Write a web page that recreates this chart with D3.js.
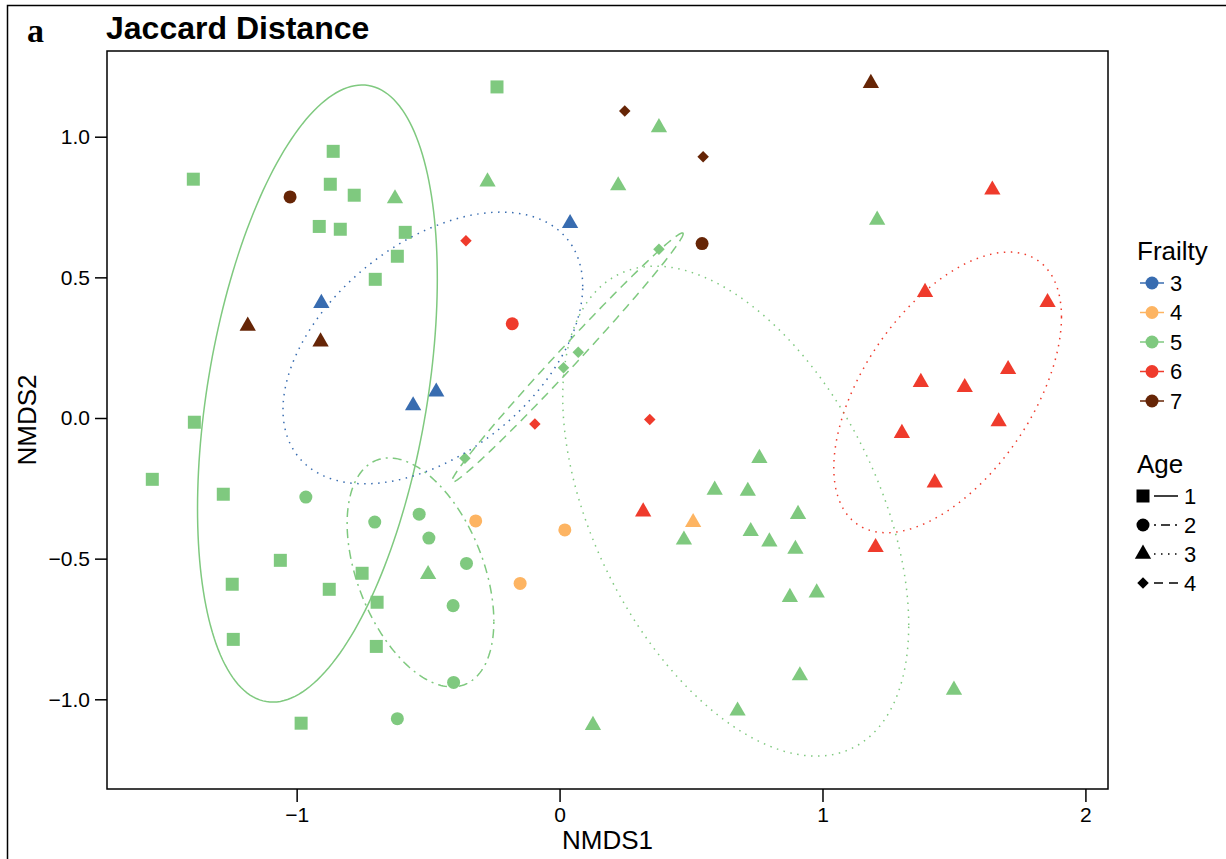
<!DOCTYPE html>
<html>
<head>
<meta charset="utf-8">
<script src="https://cdn.jsdelivr.net/npm/d3@7"></script>
<style>
  body { margin: 0; background: #fff; }
  text { font-family: "Liberation Sans", Arial, sans-serif; fill: #000; }
</style>
</head>
<body>
<div id="chart"></div>
<script>
// points: [NMDS1, NMDS2, frailty, age]
var frailtyLevels = [3, 4, 5, 6, 7];
var ageLevels = [1, 2, 3, 4];
var frailtyColors = ["#386cb0", "#fdb462", "#7fc97f", "#ef3b2c", "#662506"];

var greenSquares = [
  [-0.238, 1.177], [-0.861, 0.948], [-1.393, 0.849], [-0.872, 0.831], [-0.781, 0.792],
  [-0.914, 0.681], [-0.834, 0.671], [-0.587, 0.660], [-0.617, 0.575], [-0.701, 0.493],
  [-1.389, -0.015], [-1.549, -0.218], [-1.279, -0.271], [-1.062, -0.506], [-0.751, -0.552],
  [-1.245, -0.591], [-0.876, -0.609], [-0.694, -0.655], [-1.241, -0.787], [-0.697, -0.812],
  [-0.983, -1.085]
];
var greenCircles = [
  [-0.965, -0.281], [-0.703, -0.370], [-0.534, -0.342], [-0.497, -0.427],
  [-0.354, -0.517], [-0.405, -0.667], [-0.403, -0.940], [-0.617, -1.069]
];
var greenTriangles = [
  [-0.626, 0.780], [-0.274, 0.840], [0.378, 1.033], [0.223, 0.826], [1.208, 0.704],
  [-0.500, -0.556], [0.760, -0.143], [0.590, -0.256], [0.716, -0.260], [0.907, -0.342],
  [0.473, -0.433], [0.727, -0.403], [0.798, -0.440], [0.897, -0.466], [0.876, -0.637],
  [0.978, -0.621], [0.914, -0.916], [0.677, -1.041], [0.127, -1.092], [1.500, -0.967]
];
var greenDiamonds = [[-0.360, -0.143], [0.015, 0.179], [0.071, 0.234], [0.378, 0.600]];
var blueTriangles = [[-0.906, 0.408], [-0.557, 0.044], [-0.469, 0.093], [0.040, 0.692]];
var orangeCircles = [[-0.319, -0.366], [0.020, -0.398], [-0.150, -0.588]];
var orangeTriangles = [[0.508, -0.371]];
var redCircles = [[-0.180, 0.335]];
var redDiamonds = [[-0.356, 0.630], [-0.094, -0.021], [0.343, -0.005]];
var redTriangles = [
  [0.318, -0.333], [1.202, -0.460], [1.646, 0.811], [1.390, 0.447], [1.856, 0.411],
  [1.706, 0.173], [1.374, 0.127], [1.541, 0.109], [1.670, -0.013], [1.302, -0.054],
  [1.427, -0.230]
];
var brownCircles = [[-1.025, 0.786], [0.542, 0.620]];
var brownTriangles = [[-1.186, 0.327], [-0.909, 0.271], [1.184, 1.190]];
var brownDiamonds = [[0.248, 1.091], [0.546, 0.929]];

// ellipses: [cx, cy, halfX, halfY, corr, frailty, age]
var ellipses = [
  [-0.921, 0.087, 0.456, 1.097, 0.373, 5, 1],
  [-0.529, -0.549, 0.279, 0.407, -0.428, 5, 2],
  [0.670, -0.331, 0.658, 0.871, -0.465, 5, 3],
  [0.030, 0.215, 0.440, 0.443, 0.993, 5, 4],
  [-0.482, 0.249, 0.570, 0.483, 0.455, 3, 3],
  [1.476, 0.091, 0.433, 0.499, 0.537, 6, 3]
];

var xTicks = [-1, 0, 1, 2];
var yTicks = [1.0, 0.5, 0.0, -0.5, -1.0];

function tag(arr, f, a) { return arr.map(function(d) { return [d[0], d[1], f, a]; }); }
var points = [].concat(
  tag(greenSquares, 5, 1), tag(greenCircles, 5, 2), tag(greenTriangles, 5, 3), tag(greenDiamonds, 5, 4),
  tag(blueTriangles, 3, 3), tag(orangeCircles, 4, 2), tag(orangeTriangles, 4, 3),
  tag(redCircles, 6, 2), tag(redDiamonds, 6, 4), tag(redTriangles, 6, 3),
  tag(brownCircles, 7, 2), tag(brownTriangles, 7, 3), tag(brownDiamonds, 7, 4)
);

var W = 1226, H = 859;
var margin = {top: 51, right: 118, bottom: 70, left: 107},
    width = W - margin.left - margin.right,
    height = H - margin.top - margin.bottom;

var svg = d3.select("#chart").append("svg")
  .attr("width", W).attr("height", H);

// outer frame (figure panel border)
svg.append("path").attr("d", "M7.5,859 V5.5 H1226")
  .attr("fill", "none").attr("stroke", "#000").attr("stroke-width", 1.5);

svg.append("text").attr("x", 27).attr("y", 42)
  .style("font-family", "'Liberation Serif', 'Times New Roman', serif")
  .style("font-weight", "bold").style("font-size", "34px").text("a");
svg.append("text").attr("x", 106).attr("y", 39)
  .style("font-weight", "bold").style("font-size", "32px").text("Jaccard Distance");

var g = svg.append("g").attr("transform", "translate(" + margin.left + "," + margin.top + ")");

var x = d3.scaleLinear().domain([-1.7213, 2.0859]).range([0, width]);
var y = d3.scaleLinear().domain([-1.3189, 1.3047]).range([height, 0]);
var color = d3.scaleOrdinal().domain(frailtyLevels).range(frailtyColors);

var shapeType = {1: d3.symbolSquare, 2: d3.symbolCircle, 3: d3.symbolTriangle, 4: d3.symbolSquare};
var shapeSize = {1: 169, 2: 133, 3: 115, 4: 66};
var dashes = {1: null, 2: "2,5,9,5", 3: "1.5,5.5", 4: "9,6"};

// points
g.append("g").selectAll("path")
  .data(points)
  .join("path")
    .attr("d", function(d) { return d3.symbol().type(shapeType[d[3]]).size(shapeSize[d[3]])(); })
    .attr("transform", function(d) {
      return "translate(" + x(d[0]) + "," + y(d[1]) + ")" + (d[3] === 4 ? " rotate(45)" : "");
    })
    .attr("fill", function(d) { return color(d[2]); });

// ellipses
var line = d3.line().x(function(p) { return x(p[0]); }).y(function(p) { return y(p[1]); });
g.append("g").selectAll("path")
  .data(ellipses)
  .join("path")
    .attr("d", function(e) {
      var pts = d3.range(0, 201).map(function(i) {
        var t = i / 200 * 2 * Math.PI;
        return [e[0] + e[2] * Math.cos(t),
                e[1] + e[3] * (e[4] * Math.cos(t) + Math.sqrt(1 - e[4] * e[4]) * Math.sin(t))];
      });
      return line(pts);
    })
    .attr("fill", "none")
    .attr("stroke", function(e) { return color(e[5]); })
    .attr("stroke-width", 1.5)
    .attr("stroke-dasharray", function(e) { return dashes[e[6]]; });

// panel box
g.append("rect").attr("width", width).attr("height", height)
  .attr("fill", "none").attr("stroke", "#000").attr("stroke-width", 1.5);

// axes
var minus = function(v, f) { return d3.format(f)(v).replace("-", "\u2212"); };
var xAxis = g.append("g").attr("transform", "translate(0," + height + ")")
  .call(d3.axisBottom(x).tickValues(xTicks).tickSize(13).tickPadding(5)
    .tickFormat(function(v) { return minus(v, "d"); }));
var yAxis = g.append("g")
  .call(d3.axisLeft(y).tickValues(yTicks).tickSize(12).tickPadding(5)
    .tickFormat(function(v) { return minus(v, ".1f"); }));
[xAxis, yAxis].forEach(function(a) {
  a.select(".domain").remove();
  a.selectAll(".tick line").attr("stroke", "#000").attr("stroke-width", 1.5);
  a.selectAll("text").style("font-size", "21px").attr("fill", "#000")
    .style("font-family", "'Liberation Sans', Arial, sans-serif");
});

svg.append("text").attr("x", margin.left + width / 2).attr("y", 849)
  .attr("text-anchor", "middle").style("font-size", "26px").text("NMDS1");
svg.append("text").attr("transform", "translate(36," + (margin.top + height / 2) + ") rotate(-90)")
  .attr("text-anchor", "middle").style("font-size", "26px").text("NMDS2");

// legend: Frailty
var lf = svg.append("g");
lf.append("text").attr("x", 1137).attr("y", 260).style("font-size", "26px").text("Frailty");
frailtyLevels.forEach(function(f, i) {
  var yy = 283 + i * 29.5;
  lf.append("line").attr("x1", 1140).attr("x2", 1164).attr("y1", yy).attr("y2", yy)
    .attr("stroke", color(f)).attr("stroke-width", 1.5);
  lf.append("circle").attr("cx", 1152).attr("cy", yy).attr("r", 6.5).attr("fill", color(f));
  lf.append("text").attr("x", 1170).attr("y", yy).attr("dy", "0.36em")
    .style("font-size", "22px").text(f);
});

// legend: Age
var la = svg.append("g");
la.append("text").attr("x", 1137).attr("y", 473).style("font-size", "26px").text("Age");
ageLevels.forEach(function(a, i) {
  var yy = 496 + i * 29;
  la.append("path")
    .attr("d", d3.symbol().type(shapeType[a]).size(shapeSize[a])())
    .attr("transform", "translate(1143," + yy + ")" + (a === 4 ? " rotate(45)" : ""))
    .attr("fill", "#000");
  la.append("line").attr("x1", 1154).attr("x2", 1178).attr("y1", yy).attr("y2", yy)
    .attr("stroke", "#000").attr("stroke-width", 1.5)
    .attr("stroke-dasharray", dashes[a]);
  la.append("text").attr("x", 1184).attr("y", yy).attr("dy", "0.36em")
    .style("font-size", "22px").text(a);
});
</script>
</body>
</html>
